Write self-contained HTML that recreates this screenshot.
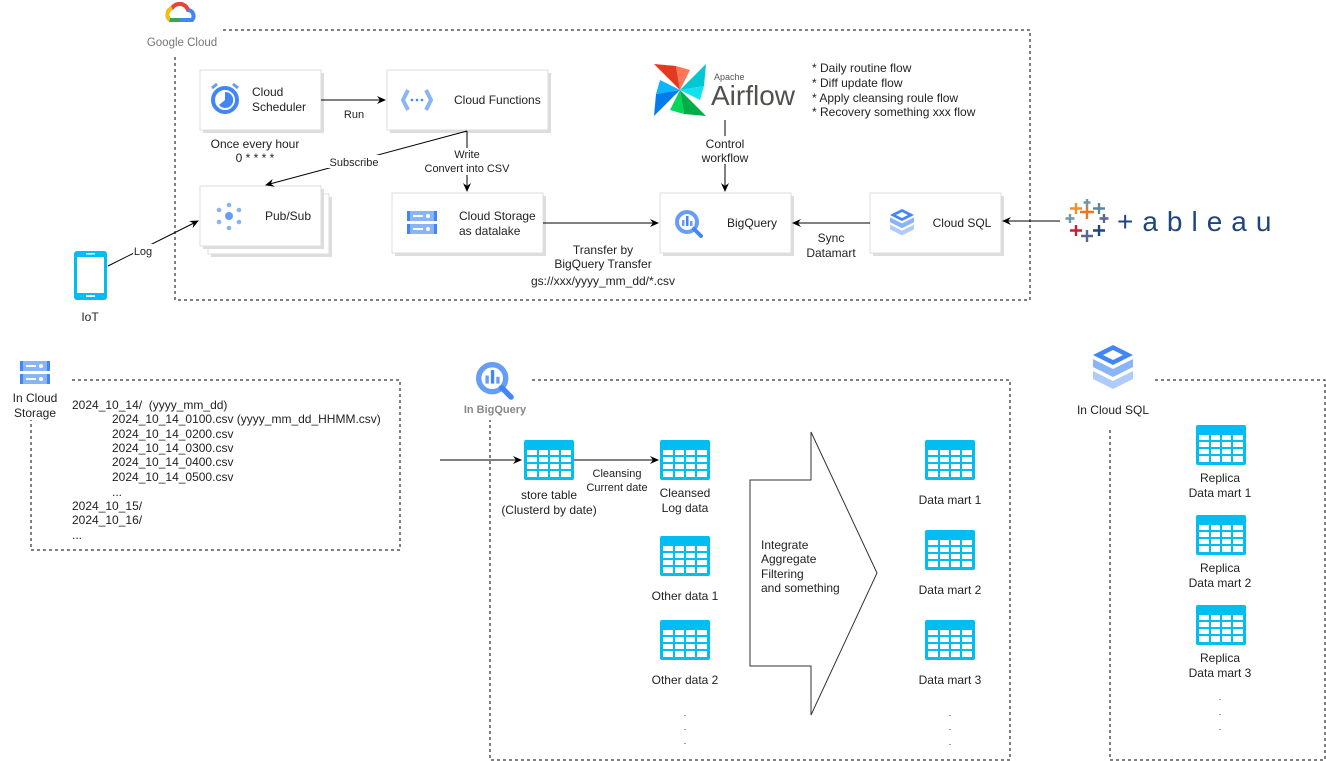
<!DOCTYPE html>
<html><head><meta charset="utf-8"><style>
body{margin:0;background:#fff}
svg{display:block;font-family:"Liberation Sans",Arial,sans-serif;font-size:12px}
text{fill:#222}
.box{fill:#fff;stroke:#ddd;stroke-width:1}
</style></head><body>
<svg width="1326" height="761" viewBox="0 0 1326 761" xmlns="http://www.w3.org/2000/svg">
<defs>
<marker id="ar" markerWidth="10" markerHeight="10" refX="8" refY="5" orient="auto" markerUnits="userSpaceOnUse">
<path d="M0,1 L9,5 L0,9 L3,5 z" fill="#000"/></marker>
<g id="tbl">
<rect x="0" y="0" width="50" height="40" rx="2" fill="#00BEF2"/>
<g fill="#fff">
<rect x="3" y="10" width="10" height="5"/><rect x="15" y="10" width="9" height="5"/><rect x="26" y="10" width="9" height="5"/><rect x="37" y="10" width="10" height="5"/>
<rect x="3" y="17" width="10" height="5"/><rect x="15" y="17" width="9" height="5"/><rect x="26" y="17" width="9" height="5"/><rect x="37" y="17" width="10" height="5"/>
<rect x="3" y="24" width="10" height="5"/><rect x="15" y="24" width="9" height="5"/><rect x="26" y="24" width="9" height="5"/><rect x="37" y="24" width="10" height="5"/>
<rect x="3" y="31" width="10" height="6"/><rect x="15" y="31" width="9" height="6"/><rect x="26" y="31" width="9" height="6"/><rect x="37" y="31" width="10" height="6"/>
</g></g>
<g id="gcs">
<rect x="0" y="0" width="30" height="10" fill="#8AB4F8"/><rect x="0" y="13" width="30" height="10" fill="#8AB4F8"/>
<rect x="0" y="0" width="3" height="10" fill="#4285F4"/><rect x="27" y="0" width="3" height="10" fill="#4285F4"/>
<rect x="0" y="13" width="3" height="10" fill="#4285F4"/><rect x="27" y="13" width="3" height="10" fill="#4285F4"/>
<rect x="6" y="4" width="10" height="2" fill="#fff"/><circle cx="21" cy="5" r="2" fill="#fff"/>
<rect x="6" y="17" width="10" height="2" fill="#fff"/><circle cx="21" cy="18" r="2" fill="#fff"/>
</g>
<g id="sql">
<path d="M20,0 L40,10 L20,20 L0,10 z" fill="#4285F4"/><path d="M20,5 L30,10 L20,15 L10,10 z" fill="#fff"/>
<path d="M0,14 L20,24 L40,14 L40,22 L20,32 L0,22 z" fill="#8AB4F8"/>
<path d="M0,26 L20,36 L40,26 L40,34 L20,44 L0,34 z" fill="#AECBFA"/>
</g>
<g id="bq">
<circle cx="12" cy="12" r="10" fill="none" stroke="#669DF6" stroke-width="4"/>
<line x1="19" y1="19" x2="26" y2="26" stroke="#4285F4" stroke-width="4" stroke-linecap="round"/>
<rect x="7" y="10" width="2.5" height="6" fill="#669DF6"/><rect x="11" y="6" width="2.5" height="10" fill="#4285F4"/><rect x="15" y="11" width="2.5" height="5" fill="#669DF6"/>
</g>
</defs>

<!-- Google Cloud container -->
<path d="M223,30 L1030,30 L1030,300 L175,300 L175,55" fill="none" stroke="#000" stroke-dasharray="3,3"/>
<path d="M170,20 a7,7 0 0 1 2,-12 a9,9 0 0 1 16,2 a6,6 0 0 1 4,10 z" fill="none" stroke="#4285F4" stroke-width="4"/>
<path d="M172,8 a9,9 0 0 1 16,2" fill="none" stroke="#EA4335" stroke-width="4"/>
<path d="M170,20 a7,7 0 0 1 2,-12" fill="none" stroke="#FBBC04" stroke-width="4"/>
<path d="M170,20 L180,20" stroke="#34A853" stroke-width="4"/>
<text x="182" y="46" text-anchor="middle" font-size="11.5" style="fill:#777">Google Cloud</text>

<!-- Cloud Scheduler -->
<rect x="203" y="73" width="121" height="60" fill="#ddd"/>
<rect class="box" x="200" y="70" width="121" height="60"/>
<circle cx="225" cy="100" r="12" fill="none" stroke="#4285F4" stroke-width="4"/>
<path d="M225,100 L225,92 A8,8 0 1 1 219,105 z" fill="#4285F4"/>
<path d="M212,88 l5,-4 M238,88 l-5,-4" stroke="#669DF6" stroke-width="3"/>
<text x="252" y="96">Cloud</text><text x="252" y="111">Scheduler</text>
<text x="255" y="148" text-anchor="middle">Once every hour</text>
<text x="255" y="162" text-anchor="middle">0 * * * *</text>

<!-- Cloud Functions -->
<rect x="390" y="73" width="161" height="60" fill="#ddd"/>
<rect class="box" x="387" y="70" width="161" height="60"/>
<path d="M408,90 l-5,10 l5,10 M426,90 l5,10 l-5,10" fill="none" stroke="#8AB4F8" stroke-width="4"/>
<circle cx="412" cy="100" r="1.3" fill="#4285F4"/><circle cx="417" cy="100" r="1.3" fill="#4285F4"/><circle cx="422" cy="100" r="1.3" fill="#4285F4"/>
<text x="454" y="104">Cloud Functions</text>
<line x1="321" y1="100" x2="385" y2="100" stroke="#000" marker-end="url(#ar)"/>
<text x="354" y="118" text-anchor="middle" font-size="11">Run</text>

<!-- Pub/Sub -->
<rect x="211" y="197" width="121" height="60" fill="#ddd"/>
<rect class="box" x="208" y="194" width="121" height="60"/>
<rect x="203" y="189" width="121" height="60" fill="#ddd"/>
<rect class="box" x="200" y="186" width="121" height="60"/>
<g fill="#8AB4F8"><circle cx="229" cy="216" r="4" fill="#669DF6"/><circle cx="229" cy="205" r="2.3"/><circle cx="219" cy="210" r="2.3"/><circle cx="239" cy="210" r="2.3"/><circle cx="219" cy="222" r="2.3"/><circle cx="239" cy="222" r="2.3"/><circle cx="229" cy="228" r="2.3"/></g>
<text x="288" y="220" text-anchor="middle">Pub/Sub</text>

<!-- Cloud Storage -->
<rect x="395" y="196" width="151" height="60" fill="#ddd"/>
<rect class="box" x="392" y="193" width="151" height="60"/>
<use href="#gcs" x="407" y="211"/>
<text x="459" y="220">Cloud Storage</text><text x="459" y="235">as datalake</text>

<line x1="467" y1="131" x2="266" y2="185" stroke="#000" marker-end="url(#ar)"/>
<rect x="327" y="155" width="54" height="13" fill="#fff"/>
<text x="354" y="166" text-anchor="middle" font-size="11">Subscribe</text>
<line x1="467" y1="131" x2="467" y2="191" stroke="#000" marker-end="url(#ar)"/>
<rect x="420" y="148" width="96" height="27" fill="#fff"/>
<text x="467" y="158" text-anchor="middle" font-size="11">Write</text>
<text x="467" y="172" text-anchor="middle" font-size="11">Convert into CSV</text>

<!-- BigQuery -->
<rect x="663" y="196" width="131" height="60" fill="#ddd"/>
<rect class="box" x="660" y="193" width="131" height="60"/>
<use href="#bq" x="675" y="210"/>
<text x="752" y="227" text-anchor="middle">BigQuery</text>
<line x1="543" y1="223" x2="658" y2="223" stroke="#000" marker-end="url(#ar)"/>
<text x="603" y="254" text-anchor="middle">Transfer by</text>
<text x="603" y="268" text-anchor="middle">BigQuery Transfer</text>
<text x="603" y="285" text-anchor="middle">gs://xxx/yyyy_mm_dd/*.csv</text>

<!-- Cloud SQL -->
<rect x="873" y="196" width="131" height="60" fill="#ddd"/>
<rect class="box" x="870" y="193" width="131" height="60"/>
<g transform="translate(890,209) scale(0.6)"><use href="#sql"/></g>
<text x="962" y="227" text-anchor="middle">Cloud SQL</text>
<line x1="870" y1="223" x2="793" y2="223" stroke="#000" marker-end="url(#ar)"/>
<text x="831" y="242" text-anchor="middle">Sync</text>
<text x="831" y="257" text-anchor="middle">Datamart</text>

<!-- Tableau -->
<line x1="1060" y1="221" x2="1003" y2="221" stroke="#000" marker-end="url(#ar)"/>
<g stroke-width="2.4">
<path d="M1087,205 v14 M1080,212 h14" stroke="#E8762D"/>
<path d="M1076,203 v11 M1070,208.5 h12" stroke="#F28E2B"/>
<path d="M1099,203 v11 M1093,208.5 h12" stroke="#5B879B"/>
<path d="M1076,225 v11 M1070,230.5 h12" stroke="#C72035"/>
<path d="M1099,225 v11 M1093,230.5 h12" stroke="#1F457E"/>
<path d="M1087,230 v12 M1081,236 h12" stroke="#5B6591"/>
<path d="M1070,214 v9 M1065.5,218.5 h9" stroke="#7099A6"/>
<path d="M1104,214 v9 M1099.5,218.5 h9" stroke="#5B6591"/>
<path d="M1087,199 v7 M1083.5,202.5 h7" stroke="#7099A6"/>
</g>
<text x="1117" y="231" font-size="28" style="fill:#1F457E" letter-spacing="9">+ableau</text>

<!-- Airflow -->
<g transform="translate(680,90)">
<path d="M0,0 L-26,-26 L-4,-24 z" fill="#E43921"/>
<path d="M0,0 L-4,-24 L10,-20 z" fill="#FF7557"/>
<path d="M0,0 L26,-26 L24,-4 z" fill="#00C7D4"/>
<path d="M0,0 L24,-4 L20,10 z" fill="#11E1EE"/>
<path d="M0,0 L26,26 L4,24 z" fill="#00AD46"/>
<path d="M0,0 L4,24 L-10,20 z" fill="#04D659"/>
<path d="M0,0 L-26,26 L-24,4 z" fill="#017CEE"/>
<path d="M0,0 L-24,4 L-20,-10 z" fill="#0CB6FF"/>
</g>
<text x="714" y="80" font-size="9" style="fill:#555">Apache</text>
<text x="711" y="105" font-size="28" style="fill:#51504F">Airflow</text>
<text x="812" y="72">* Daily routine flow</text>
<text x="812" y="87">* Diff update flow</text>
<text x="812" y="102">* Apply cleansing roule flow</text>
<text x="812" y="116">* Recovery something xxx flow</text>
<line x1="725" y1="120" x2="725" y2="191" stroke="#000" marker-end="url(#ar)"/>
<rect x="697" y="136" width="56" height="28" fill="#fff"/>
<text x="725" y="148" text-anchor="middle">Control</text>
<text x="725" y="162" text-anchor="middle">workflow</text>

<!-- IoT -->
<rect x="74" y="251" width="33" height="49" rx="3" fill="#00BEF2"/>
<rect x="77" y="257" width="27" height="36" fill="#fff"/>
<rect x="86" y="253" width="9" height="1.5" fill="#fff"/><rect x="86" y="295" width="9" height="2" fill="#fff"/>
<text x="90" y="321" text-anchor="middle">IoT</text>
<line x1="108" y1="266" x2="198" y2="221" stroke="#000" marker-end="url(#ar)"/>
<rect x="133" y="244" width="20" height="13" fill="#fff"/>
<text x="143" y="255" text-anchor="middle" font-size="11">Log</text>

<!-- In Cloud Storage -->
<use href="#gcs" x="20" y="361"/>
<text x="35" y="402" text-anchor="middle">In Cloud</text>
<text x="35" y="417" text-anchor="middle">Storage</text>
<path d="M72,380 L400,380 L400,550 L31,550 L31,420" fill="none" stroke="#000" stroke-dasharray="3,3"/>
<text x="72" y="409">2024_10_14/&#160;&#160;(yyyy_mm_dd)</text>
<text x="112" y="423">2024_10_14_0100.csv (yyyy_mm_dd_HHMM.csv)</text>
<text x="112" y="438">2024_10_14_0200.csv</text>
<text x="112" y="452">2024_10_14_0300.csv</text>
<text x="112" y="466">2024_10_14_0400.csv</text>
<text x="112" y="481">2024_10_14_0500.csv</text>
<text x="112" y="496">...</text>
<text x="72" y="510">2024_10_15/</text>
<text x="72" y="524">2024_10_16/</text>
<text x="72" y="539">...</text>
<line x1="440" y1="460" x2="521" y2="460" stroke="#000" marker-end="url(#ar)"/>

<!-- In BigQuery -->
<g transform="translate(476,362) scale(1.35)"><use href="#bq"/></g>
<text x="495" y="413" text-anchor="middle" font-weight="bold" font-size="11" style="fill:#888">In BigQuery</text>
<path d="M532,380 L1010,380 L1010,760 L490,760 L490,420" fill="none" stroke="#000" stroke-dasharray="3,3"/>
<use href="#tbl" x="524" y="440"/>
<use href="#tbl" x="660" y="440"/>
<use href="#tbl" x="660" y="536"/>
<use href="#tbl" x="660" y="620"/>
<line x1="574" y1="460" x2="658" y2="460" stroke="#000" marker-end="url(#ar)"/>
<text x="617" y="477" text-anchor="middle" font-size="11">Cleansing</text>
<text x="617" y="491" text-anchor="middle" font-size="11">Current date</text>
<text x="549" y="499" text-anchor="middle">store table</text>
<text x="549" y="514" text-anchor="middle">(Clusterd by date)</text>
<text x="685" y="497" text-anchor="middle">Cleansed</text>
<text x="685" y="512" text-anchor="middle">Log data</text>
<text x="685" y="600" text-anchor="middle">Other data 1</text>
<text x="685" y="684" text-anchor="middle">Other data 2</text>
<text x="685" y="716" text-anchor="middle" font-size="9">.</text>
<text x="685" y="730" text-anchor="middle" font-size="9">.</text>
<text x="685" y="744" text-anchor="middle" font-size="9">.</text>
<path d="M750,480 L811,480 L811,432 L877,573 L811,715 L811,666 L750,666 z" fill="#fff" stroke="#333"/>
<text x="761" y="549">Integrate</text>
<text x="761" y="563">Aggregate</text>
<text x="761" y="578">Filtering</text>
<text x="761" y="592">and something</text>
<use href="#tbl" x="925" y="440"/>
<use href="#tbl" x="925" y="530"/>
<use href="#tbl" x="925" y="620"/>
<text x="950" y="504" text-anchor="middle">Data mart 1</text>
<text x="950" y="594" text-anchor="middle">Data mart 2</text>
<text x="950" y="684" text-anchor="middle">Data mart 3</text>
<text x="950" y="716" text-anchor="middle" font-size="9">.</text>
<text x="950" y="730" text-anchor="middle" font-size="9">.</text>
<text x="950" y="745" text-anchor="middle" font-size="9">.</text>

<!-- In Cloud SQL -->
<use href="#sql" x="1093" y="345"/>
<text x="1113" y="414" text-anchor="middle">In Cloud SQL</text>
<path d="M1155,380 L1325,380 L1325,760 L1110,760 L1110,427" fill="none" stroke="#000" stroke-dasharray="3,3"/>
<use href="#tbl" x="1196" y="425"/>
<use href="#tbl" x="1196" y="515"/>
<use href="#tbl" x="1196" y="605"/>
<text x="1220" y="482" text-anchor="middle">Replica</text><text x="1220" y="497" text-anchor="middle">Data mart 1</text>
<text x="1220" y="572" text-anchor="middle">Replica</text><text x="1220" y="587" text-anchor="middle">Data mart 2</text>
<text x="1220" y="662" text-anchor="middle">Replica</text><text x="1220" y="677" text-anchor="middle">Data mart 3</text>
<text x="1220" y="700" text-anchor="middle" font-size="9">.</text>
<text x="1220" y="715" text-anchor="middle" font-size="9">.</text>
<text x="1220" y="730" text-anchor="middle" font-size="9">.</text>
</svg>
</body></html>
